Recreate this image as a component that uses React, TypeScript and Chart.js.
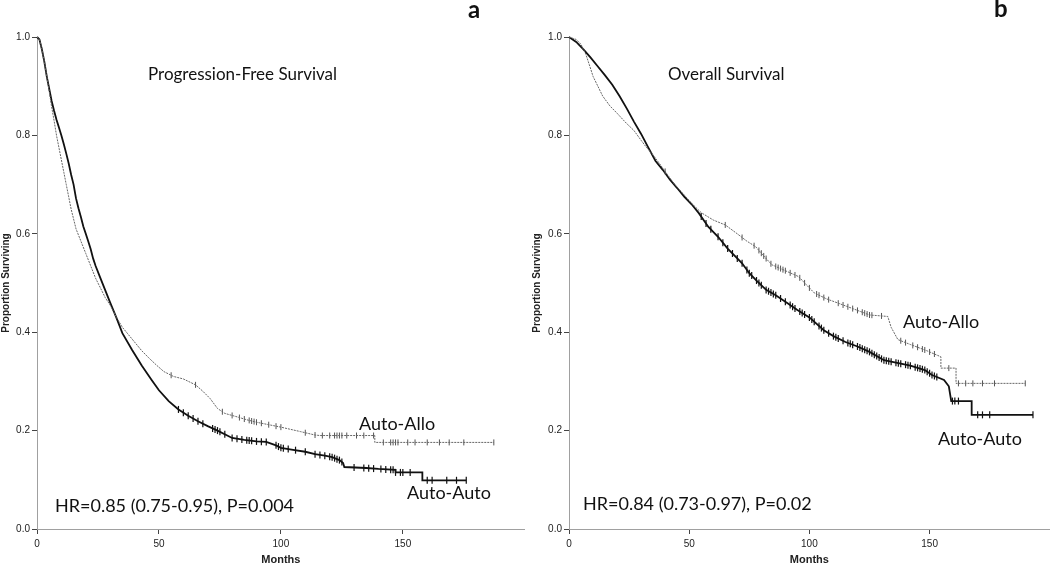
import React, { useEffect, useRef } from "react";
import { Chart, registerables } from "chart.js";
Chart.register(...registerables);

// ---------- Data ----------
// Panel a: Progression-Free Survival
const pfsAutoAutoMonths = [0, 1, 2, 3, 4, 5, 6, 7, 8, 9, 10, 11, 12, 13, 14, 15, 16, 17, 18, 19, 20, 21, 22, 23, 24, 26, 28, 30, 32.5, 35, 39, 43, 47, 50, 54, 58, 62, 66, 70, 74, 78, 80, 85, 90, 94, 98, 100, 105, 110, 114, 118, 121, 124, 125.5, 126, 135, 140, 147, 147, 158, 158, 176];
const pfsAutoAutoSurv = [1.0, 0.995, 0.975, 0.95, 0.92, 0.895, 0.87, 0.85, 0.832, 0.816, 0.8, 0.782, 0.763, 0.743, 0.72, 0.7, 0.672, 0.652, 0.634, 0.615, 0.6, 0.585, 0.569, 0.55, 0.535, 0.51, 0.485, 0.46, 0.43, 0.398, 0.364, 0.332, 0.303, 0.282, 0.26, 0.243, 0.23, 0.219, 0.209, 0.2, 0.19, 0.185, 0.181, 0.178, 0.177, 0.17, 0.165, 0.161, 0.157, 0.152, 0.149, 0.146, 0.14, 0.134, 0.126, 0.124, 0.122, 0.12, 0.115, 0.115, 0.099, 0.099];
const pfsAutoAutoCensored = [58, 60, 62, 64, 66, 68, 72, 73, 74, 75, 77, 80, 82, 84, 86, 87, 88, 90, 92, 94, 98, 99, 100, 101, 103, 106, 110, 114, 116, 118, 120, 121, 122, 123, 124, 125, 130, 134, 136, 138, 141, 143, 145, 146, 147, 149, 150, 153, 160, 162, 168, 172, 176];

const pfsAutoAlloMonths = [0, 1, 2, 3, 4, 5, 6, 7, 8, 9, 10, 11, 12, 13, 14, 15, 16, 18, 20, 22, 24, 26, 28, 30, 32.5, 35, 37, 40, 43, 46, 49, 52, 56, 60, 65, 68, 71, 74, 77, 82, 86, 90, 95, 100, 108, 114, 116, 138.5, 138.5, 187.3];
const pfsAutoAlloSurv = [1.0, 0.995, 0.975, 0.95, 0.92, 0.89, 0.858, 0.83, 0.8, 0.775, 0.75, 0.725, 0.7, 0.675, 0.65, 0.63, 0.61, 0.585, 0.56, 0.535, 0.51, 0.49, 0.47, 0.455, 0.431, 0.41, 0.398, 0.38, 0.362, 0.347, 0.333, 0.32, 0.31, 0.305, 0.293, 0.28, 0.265, 0.245, 0.235, 0.228, 0.222, 0.217, 0.212, 0.207, 0.198, 0.191, 0.19, 0.19, 0.176, 0.176];
const pfsAutoAlloCensored = [55, 65, 76, 80, 83, 85, 87, 88, 89, 90, 92, 95, 98, 100, 110, 114, 117, 120, 122, 123, 124, 125, 127, 131, 134, 138, 142, 145, 146, 147, 148, 152, 155, 160, 165, 169, 175, 187.3];

// Panel b: Overall Survival
const osAutoAutoMonths = [0, 3, 6, 9, 12, 15, 18, 21, 24, 27, 30, 33, 36, 39, 42, 45, 48, 51, 54, 58, 62, 66, 70, 72, 75, 78, 82, 86, 90, 95, 100, 106, 110, 115, 120, 125, 131, 136, 142, 148, 151, 156, 158, 159, 167.5, 167.5, 193];
const osAutoAutoSurv = [1.0, 0.99, 0.975, 0.958, 0.94, 0.922, 0.903, 0.88, 0.855, 0.828, 0.803, 0.775, 0.748, 0.73, 0.71, 0.693, 0.675, 0.66, 0.642, 0.614, 0.594, 0.57, 0.55, 0.54, 0.52, 0.505, 0.486, 0.475, 0.462, 0.445, 0.43, 0.404, 0.392, 0.38, 0.371, 0.36, 0.343, 0.338, 0.332, 0.323, 0.313, 0.303, 0.29, 0.26, 0.26, 0.232, 0.232];
const osAutoAutoCensored = [55, 57, 59, 62, 64, 66, 68, 70, 72, 74, 75, 76, 78, 79, 80, 82, 83, 84, 85, 86, 88, 90, 92, 93, 94, 96, 97, 98, 100, 101, 102, 104, 105, 106, 108, 110, 111, 112, 114, 116, 117, 118, 120, 121, 122, 123, 124, 125, 126, 127, 128, 129, 130, 131, 132, 133, 134, 136, 137, 138, 140, 141, 142, 144, 145, 146, 147, 148, 149, 150, 151, 152, 153, 159.5, 160.5, 162, 170, 172, 175, 193];

const osAutoAlloMonths = [0, 3, 5, 7, 8.7, 10, 12, 14, 17, 20, 23.8, 27, 30, 32, 35, 37.6, 41, 44, 47, 51, 55, 60, 65, 70, 74, 77.6, 81, 84.4, 90, 95.5, 99, 102, 107, 112, 118, 125, 132.6, 134, 136.8, 142, 149, 154.7, 154.7, 161, 161, 189.8];
const osAutoAlloSurv = [1.0, 0.995, 0.985, 0.965, 0.94, 0.92, 0.9, 0.88, 0.86, 0.845, 0.825, 0.81, 0.79, 0.777, 0.76, 0.743, 0.72, 0.7, 0.684, 0.662, 0.643, 0.628, 0.618, 0.6, 0.585, 0.574, 0.555, 0.537, 0.525, 0.513, 0.495, 0.48, 0.468, 0.459, 0.448, 0.435, 0.432, 0.41, 0.385, 0.375, 0.362, 0.35, 0.327, 0.327, 0.296, 0.296];
const osAutoAlloCensored = [40, 65, 72, 77, 79, 80, 81, 82, 84, 86, 87, 88, 89, 90, 92, 94, 96, 98, 100, 103, 104, 106, 108, 112, 114, 116, 118, 120, 122, 123, 124, 125, 126, 130, 138, 140, 143, 145, 147, 148, 150, 152, 158, 162, 165, 168, 172, 177, 189.8];

const xTickValues = [0, 50, 100, 150];
const yTickValues = [0.0, 0.2, 0.4, 0.6, 0.8, 1.0];

// ---------- Helpers ----------
type Pt = { x: number; y: number };
const toPoints = (m: number[], s: number[]): Pt[] => m.map((x, i) => ({ x, y: s[i] }));
const yAt = (m: number[], s: number[], t: number): number => {
  for (let i = m.length - 1; i >= 0; i--) {
    if (m[i] <= t) {
      if (i === m.length - 1 || m[i + 1] === m[i]) return s[i];
      const f = (t - m[i]) / (m[i + 1] - m[i]);
      return s[i] + f * (s[i + 1] - s[i]);
    }
  }
  return s[0];
};
const censorPoints = (m: number[], s: number[], c: number[]): Pt[] => c.map((t) => ({ x: t, y: yAt(m, s, t) }));

const TICK_FONT = "'Liberation Sans', Arial, sans-serif";
const TEXT_FONT = "Lato, 'Open Sans', sans-serif";

type PanelProps = {
  left: number;
  width: number;
  yAxisWidth: number;
  rightPad: number;
  yTitlePad: number;
  autoMonths: number[];
  autoSurv: number[];
  autoCens: number[];
  alloMonths: number[];
  alloSurv: number[];
  alloCens: number[];
};

function KMPanel(p: PanelProps) {
  const ref = useRef<HTMLCanvasElement>(null);
  useEffect(() => {
    const chart = new Chart(ref.current as HTMLCanvasElement, {
      type: "scatter",
      data: {
        datasets: [
          {
            label: "Auto-Allo",
            data: toPoints(p.alloMonths, p.alloSurv),
            showLine: true,
            borderColor: "#666666",
            borderWidth: 1,
            borderDash: [2, 1],
            pointRadius: 0,
            tension: 0,
            clip: false,
          } as any,
          {
            label: "Auto-Allo censored",
            data: censorPoints(p.alloMonths, p.alloSurv, p.alloCens),
            showLine: false,
            pointStyle: "line",
            rotation: 90,
            pointRadius: 3,
            borderColor: "#555555",
            borderWidth: 1,
            clip: false,
          } as any,
          {
            label: "Auto-Auto",
            data: toPoints(p.autoMonths, p.autoSurv),
            showLine: true,
            borderColor: "#111111",
            borderWidth: 1.8,
            pointRadius: 0,
            tension: 0,
            clip: false,
          } as any,
          {
            label: "Auto-Auto censored",
            data: censorPoints(p.autoMonths, p.autoSurv, p.autoCens),
            showLine: false,
            pointStyle: "line",
            rotation: 90,
            pointRadius: 3.5,
            borderColor: "#111111",
            borderWidth: 1.2,
            clip: false,
          } as any,
        ],
      },
      options: {
        responsive: false,
        animation: false,
        devicePixelRatio: 1,
        layout: { padding: { top: 37, right: p.rightPad, left: 0, bottom: 0 } },
        plugins: { legend: { display: false }, tooltip: { enabled: false } },
        scales: {
          x: {
            type: "linear",
            min: 0,
            max: 200,
            afterBuildTicks: (s: any) => {
              s.ticks = xTickValues.map((v) => ({ value: v }));
            },
            afterFit: (s: any) => {
              s.height = 38;
            },
            grid: { drawOnChartArea: false, drawTicks: true, tickLength: 5, color: "#444444" },
            border: { color: "#a0a0a0", width: 1 },
            ticks: { padding: 4, maxRotation: 0, autoSkip: false, color: "#222222", font: { family: TICK_FONT, size: 10 } },
            title: { display: true, text: "Months", color: "#222222", padding: 0, font: { family: TICK_FONT, size: 11, weight: "bold" } },
          },
          y: {
            type: "linear",
            min: 0,
            max: 1,
            afterBuildTicks: (s: any) => {
              s.ticks = yTickValues.map((v) => ({ value: v }));
            },
            afterFit: (s: any) => {
              s.width = p.yAxisWidth;
            },
            grid: { drawOnChartArea: false, drawTicks: true, tickLength: 5, color: "#444444" },
            border: { color: "#a0a0a0", width: 1 },
            ticks: {
              padding: 2,
              color: "#222222",
              font: { family: TICK_FONT, size: 10 },
              callback: (v: any) => Number(v).toFixed(1),
            },
            title: { display: true, text: "Proportion Surviving", color: "#222222", padding: { top: p.yTitlePad, bottom: 0 }, font: { family: TICK_FONT, size: 10, weight: "bold" } },
          },
        },
      } as any,
    });
    return () => chart.destroy();
  }, []);
  return (
    <canvas
      ref={ref}
      width={p.width}
      height={567}
      style={{ position: "absolute", left: p.left, top: 0, width: p.width, height: 567 }}
    />
  );
}

function Label({ x, y, size, bold, children }: { x: number; y: number; size: number; bold?: boolean; children: React.ReactNode }) {
  return (
    <div
      style={{
        position: "absolute",
        left: x,
        top: y,
        transform: "translateY(-50%)",
        fontFamily: TEXT_FONT,
        fontSize: size,
        fontWeight: bold ? 700 : 400,
        lineHeight: 1,
        color: "#111111",
        whiteSpace: "nowrap",
      }}
    >
      {children}
    </div>
  );
}

export default function App() {
  return (
    <div style={{ position: "fixed", left: 0, top: 0, width: 1050, height: 564, overflow: "hidden", background: "#ffffff" }}>
      <KMPanel
        left={0}
        width={530}
        yAxisWidth={37}
        rightPad={2}
        yTitlePad={0}
        autoMonths={pfsAutoAutoMonths}
        autoSurv={pfsAutoAutoSurv}
        autoCens={pfsAutoAutoCensored}
        alloMonths={pfsAutoAlloMonths}
        alloSurv={pfsAutoAlloSurv}
        alloCens={pfsAutoAlloCensored}
      />
      <KMPanel
        left={525}
        width={530}
        yAxisWidth={44}
        rightPad={2}
        yTitlePad={6}
        autoMonths={osAutoAutoMonths}
        autoSurv={osAutoAutoSurv}
        autoCens={osAutoAutoCensored}
        alloMonths={osAutoAlloMonths}
        alloSurv={osAutoAlloSurv}
        alloCens={osAutoAlloCensored}
      />
      <Label x={148} y={73} size={17}>Progression-Free Survival</Label>
      <Label x={668} y={73} size={17}>Overall Survival</Label>
      <Label x={468} y={9} size={24} bold>a</Label>
      <Label x={994} y={8} size={24} bold>b</Label>
      <Label x={55} y={505} size={18}>HR=0.85 (0.75-0.95), P=0.004</Label>
      <Label x={583} y={503} size={18}>HR=0.84 (0.73-0.97), P=0.02</Label>
      <Label x={359} y={423} size={18}>Auto-Allo</Label>
      <Label x={407} y={492} size={18}>Auto-Auto</Label>
      <Label x={903} y={321} size={18}>Auto-Allo</Label>
      <Label x={938} y={438} size={18}>Auto-Auto</Label>
    </div>
  );
}
